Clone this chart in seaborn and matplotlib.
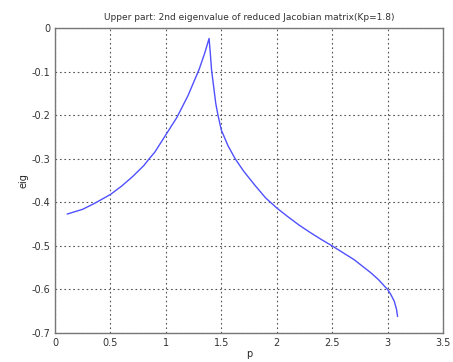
import matplotlib
matplotlib.use("Agg")
import matplotlib.pyplot as plt
import seaborn as sns
import pandas as pd

p_vals = [0.11, 0.25, 0.36, 0.5, 0.6, 0.7, 0.8, 0.85, 0.9, 1.0, 1.1, 1.2, 1.3, 1.35, 1.39,
          1.40, 1.412, 1.45, 1.47, 1.5, 1.56, 1.625, 1.7, 1.8, 1.85, 1.9, 2.0, 2.1, 2.2, 2.3,
          2.4, 2.5, 2.6, 2.7, 2.78, 2.85, 2.92, 2.97, 3.0, 3.03, 3.06, 3.08, 3.09]
eig_vals = [-0.427, -0.416, -0.402, -0.382, -0.363, -0.341, -0.316, -0.30, -0.285, -0.245, -0.205, -0.155, -0.095, -0.058, -0.024,
            -0.055, -0.096, -0.173, -0.20, -0.234, -0.27, -0.30, -0.328, -0.36, -0.375, -0.39, -0.413, -0.433, -0.452, -0.469,
            -0.485, -0.50, -0.516, -0.532, -0.548, -0.562, -0.578, -0.592, -0.60, -0.612, -0.627, -0.645, -0.662]
x_ticks = [0, 0.5, 1, 1.5, 2, 2.5, 3, 3.5]
x_tick_labels = ["0", "0.5", "1", "1.5", "2", "2.5", "3", "3.5"]
y_ticks = [0, -0.1, -0.2, -0.3, -0.4, -0.5, -0.6, -0.7]
y_tick_labels = ["0", "-0.1", "-0.2", "-0.3", "-0.4", "-0.5", "-0.6", "-0.7"]

df = pd.DataFrame({"p": p_vals, "eig": eig_vals})

sns.set_style("white")
plt.rcParams['font.family'] = ['DejaVu Sans']

fig = plt.figure(figsize=(4.53, 3.62), dpi=100)
ax = fig.add_axes([0.1214, 0.080, 0.8566, 0.8427])
sns.lineplot(data=df, x="p", y="eig", ax=ax, color="#5050ff", linewidth=1.0, sort=False)

ax.set_xlim(0, 3.5)
ax.set_ylim(-0.7, 0)
ax.set_xticks(x_ticks)
ax.set_xticklabels(x_tick_labels)
ax.set_yticks(y_ticks)
ax.set_yticklabels(y_tick_labels)
ax.grid(True, linestyle=(0, (1.5, 2.5)), color="#555555", linewidth=0.8)
ax.tick_params(direction="in", length=4, labelsize=7, colors="#333333", width=0.8)
for s in ax.spines.values():
    s.set_color("#777777")
    s.set_linewidth(1.0)
ax.set_xlabel("p", fontsize=7, labelpad=1)
ax.set_ylabel("eig", fontsize=7, labelpad=2)
ax.set_title("Upper part: 2nd eigenvalue of reduced Jacobian matrix(Kp=1.8)", fontsize=6.5, pad=6, color="#333333")

fig.savefig("out.png", dpi=100)
